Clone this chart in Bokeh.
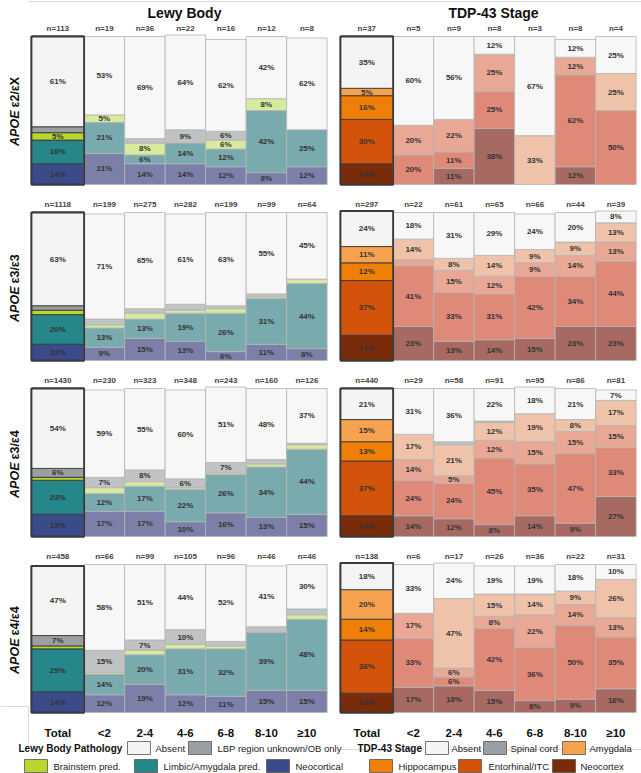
import math
from bokeh.plotting import figure
from bokeh.models import Range1d
from bokeh.core.properties import value
from bokeh.embed import file_html
from bokeh.resources import INLINE

FONT = value("Liberation Sans")

AGE_GROUPS = ["Total", "<2", "2-4", "4-6", "6-8", "8-10", "≥10"]
GENOTYPES = ["ε2/εX", "ε3/ε3", "ε3/ε4", "ε4/ε4"]

LB_STAGES = ["Neocortical", "Limbic/Amygdala pred.", "Brainstem pred.",
             "LBP region unknown/OB only", "Absent"]
TDP_STAGES = ["Neocortex", "Entorhinal/ITC", "Hippocampus", "Amygdala",
              "Spinal cord", "Absent"]

# ---- Lewy body pathology (% of cases), bottom stage first ----
lb_n_e2x = [113, 19, 36, 22, 16, 12, 8]
lb_e2x = {
    "Neocortical":                [14, 21, 14, 14, 12, 8, 12],
    "Limbic/Amygdala pred.":      [16, 21, 6, 14, 12, 42, 25],
    "Brainstem pred.":            [5, 5, 8, 0, 6, 8, 0],
    "LBP region unknown/OB only": [4, 0, 3, 9, 6, 0, 0],
    "Absent":                     [61, 53, 69, 64, 62, 42, 62],
}
lb_n_e33 = [1118, 199, 275, 282, 199, 99, 64]
lb_e33 = {
    "Neocortical":                [11, 9, 15, 13, 6, 11, 8],
    "Limbic/Amygdala pred.":      [20, 13, 13, 19, 26, 31, 44],
    "Brainstem pred.":            [3, 2, 4, 2, 3, 1, 3],
    "LBP region unknown/OB only": [3, 4, 3, 4, 2, 2, 0],
    "Absent":                     [63, 71, 65, 61, 63, 55, 45],
}
lb_n_e34 = [1430, 230, 323, 348, 243, 160, 126]
lb_e34 = {
    "Neocortical":                [15, 17, 17, 10, 16, 13, 15],
    "Limbic/Amygdala pred.":      [23, 12, 17, 22, 26, 34, 44],
    "Brainstem pred.":            [2, 4, 3, 1, 1, 2, 3],
    "LBP region unknown/OB only": [6, 7, 8, 6, 7, 3, 1],
    "Absent":                     [54, 59, 55, 60, 51, 48, 37],
}
lb_n_e44 = [458, 66, 99, 105, 96, 46, 46]
lb_e44 = {
    "Neocortical":                [14, 12, 19, 12, 11, 15, 15],
    "Limbic/Amygdala pred.":      [29, 14, 20, 31, 32, 39, 48],
    "Brainstem pred.":            [2, 1, 3, 3, 2, 0, 3],
    "LBP region unknown/OB only": [7, 15, 7, 10, 3, 4, 4],
    "Absent":                     [47, 58, 51, 44, 52, 41, 30],
}

# ---- TDP-43 stage (% of cases), bottom stage first ----
tdp_n_e2x = [37, 5, 9, 8, 3, 8, 4]
tdp_e2x = {
    "Neocortex":      [14, 0, 11, 38, 0, 12, 0],
    "Entorhinal/ITC": [30, 20, 11, 25, 0, 62, 50],
    "Hippocampus":    [16, 20, 22, 25, 0, 12, 0],
    "Amygdala":       [5, 0, 0, 0, 33, 0, 25],
    "Spinal cord":    [0, 0, 0, 0, 0, 0, 0],
    "Absent":         [35, 60, 56, 12, 67, 12, 25],
}
tdp_n_e33 = [297, 22, 61, 65, 66, 44, 39]
tdp_e33 = {
    "Neocortex":      [17, 23, 13, 14, 15, 23, 23],
    "Entorhinal/ITC": [37, 41, 33, 31, 42, 34, 44],
    "Hippocampus":    [12, 4, 15, 12, 9, 14, 13],
    "Amygdala":       [11, 14, 8, 14, 9, 9, 13],
    "Spinal cord":    [0, 0, 0, 0, 0, 0, 0],
    "Absent":         [24, 18, 31, 29, 24, 20, 8],
}
tdp_n_e34 = [440, 29, 58, 91, 95, 86, 81]
tdp_e34 = {
    "Neocortex":      [14, 14, 12, 8, 14, 9, 27],
    "Entorhinal/ITC": [37, 24, 24, 45, 35, 47, 33],
    "Hippocampus":    [13, 14, 5, 12, 15, 15, 15],
    "Amygdala":       [15, 17, 21, 12, 19, 8, 17],
    "Spinal cord":    [0, 0, 2, 1, 0, 0, 0],
    "Absent":         [21, 31, 36, 22, 18, 21, 7],
}
tdp_n_e44 = [138, 6, 17, 26, 36, 22, 31]
tdp_e44 = {
    "Neocortex":      [13, 17, 18, 15, 8, 9, 16],
    "Entorhinal/ITC": [36, 33, 6, 42, 36, 50, 35],
    "Hippocampus":    [14, 17, 6, 8, 22, 14, 13],
    "Amygdala":       [20, 0, 47, 15, 14, 9, 26],
    "Spinal cord":    [0, 0, 0, 0, 0, 0, 0],
    "Absent":         [18, 33, 24, 19, 19, 18, 10],
}

# ---- colours: full strength for the Total bar, muted for age bars ----
LB_STRONG = {
    "Neocortical": "#3b4a8b", "Limbic/Amygdala pred.": "#25878a",
    "Brainstem pred.": "#b9d62c", "LBP region unknown/OB only": "#9a9fa2",
    "Absent": "#f4f4f4",
}
LB_PALE = {
    "Neocortical": "#7c80a8", "Limbic/Amygdala pred.": "#79aaae",
    "Brainstem pred.": "#d7ea9e", "LBP region unknown/OB only": "#c0c2c4",
    "Absent": "#f7f7f7",
}
TDP_STRONG = {
    "Neocortex": "#7a2b0a", "Entorhinal/ITC": "#d4530a",
    "Hippocampus": "#f07f08", "Amygdala": "#f7a24e",
    "Spinal cord": "#9a9fa2", "Absent": "#f4f4f4",
}
TDP_PALE = {
    "Neocortex": "#a66a63", "Entorhinal/ITC": "#df8979",
    "Hippocampus": "#e8a895", "Amygdala": "#efc3a9",
    "Spinal cord": "#c0c2c4", "Absent": "#f7f7f7",
}

# ---- page geometry (screen pixels) ----
W, H = 641, 773
BAR_PX = 40.5                 # width of one age bar
TOTAL_W = 1.3                 # Total bar width in age-bar units
ROW_BOTTOMS = [184, 360, 536, 712]
ROW_PX = 148                  # height of a 100 % bar
PANEL_LEFT = {"lb": 31, "tdp": 340}

p = figure(width=W, height=H, output_backend="svg", toolbar_location=None,
           x_range=Range1d(0, W), y_range=Range1d(H, 0),
           x_axis_location=None, y_axis_location=None, min_border=0,
           outline_line_color=None, background_fill_color="white",
           border_fill_color="white")
p.grid.visible = False

# one x range per panel (unit = one age bar), one y range per genotype row (percent)
p.extra_x_ranges = {
    name: Range1d(-left / BAR_PX, (W - left) / BAR_PX)
    for name, left in PANEL_LEFT.items()
}
yr = {}
for i, b in enumerate(ROW_BOTTOMS):
    span = 100.0 * H / ROW_PX
    start = -(H - b) * 100.0 / ROW_PX
    yr[f"row{i}"] = Range1d(start, start + span)
p.extra_y_ranges = yr


def slot(j):
    if j == 0:
        return 0.0, TOTAL_W
    left = TOTAL_W + (j - 1)
    return left, left + 1.0


def draw_panel(xname, yname, stages, pct, counts, strong, pale):
    segs = {"l": [], "r": [], "b": [], "t": [], "c": [], "lc": [], "lw": []}
    labels = {"x": [], "y": [], "text": []}
    for j, _ in enumerate(AGE_GROUPS):
        left, right = slot(j)
        base = 0.0
        for stage in stages:
            v = pct[stage][j]
            if v <= 0:
                continue
            segs["l"].append(left)
            segs["r"].append(right)
            segs["b"].append(base)
            segs["t"].append(base + v)
            segs["c"].append(strong[stage] if j == 0 else pale[stage])
            segs["lc"].append("#3a3a3a" if j == 0 else "#b4b4b4")
            segs["lw"].append(0.9 if j == 0 else 0.8)
            if v >= 5:
                labels["x"].append((left + right) / 2)
                labels["y"].append(base + v / 2)
                labels["text"].append(f"{v}%")
            base += v
        if j == 0:
            p.quad(left=[left], right=[right], bottom=[0], top=[base],
                   fill_color=None, line_color="#3a3a3a", line_width=1.8,
                   x_range_name=xname, y_range_name=yname)
    p.quad(left=segs["l"], right=segs["r"], bottom=segs["b"], top=segs["t"],
           fill_color=segs["c"], line_color=segs["lc"], line_width=segs["lw"],
           x_range_name=xname, y_range_name=yname)
    # redraw the Total frame on top of its segments
    l0, r0 = slot(0)
    tot = sum(pct[s][0] for s in stages)
    p.quad(left=[l0], right=[r0], bottom=[0], top=[tot],
           fill_color=None, line_color="#3a3a3a", line_width=1.8,
           x_range_name=xname, y_range_name=yname)
    p.text(x=labels["x"], y=labels["y"], text=labels["text"],
           text_font=FONT, text_font_style="bold", text_font_size="8px",
           text_color="#333333", text_align="center", text_baseline="middle",
           x_range_name=xname, y_range_name=yname)
    p.text(x=[sum(slot(j)) / 2 for j in range(len(AGE_GROUPS))],
           y=[100] * len(AGE_GROUPS),
           text=[f"n={n}" for n in counts], y_offset=-8,
           text_font=FONT, text_font_style="bold", text_font_size="8px",
           text_color="#444444", text_align="center", text_baseline="middle",
           x_range_name=xname, y_range_name=yname)


rows = [
    (lb_e2x, lb_n_e2x, tdp_e2x, tdp_n_e2x),
    (lb_e33, lb_n_e33, tdp_e33, tdp_n_e33),
    (lb_e34, lb_n_e34, tdp_e34, tdp_n_e34),
    (lb_e44, lb_n_e44, tdp_e44, tdp_n_e44),
]

# faint slide rules
p.segment(x0=[28, 0, 28, 340], y0=[1, 706, 706, 749],
          x1=[W, 28, 28, W], y1=[1, 706, 742, 749],
          line_color="#d9d9d9", line_width=1)

for i, (lb, lbn, tdp, tdpn) in enumerate(rows):
    draw_panel("lb", f"row{i}", LB_STAGES, lb, lbn, LB_STRONG, LB_PALE)
    draw_panel("tdp", f"row{i}", TDP_STAGES, tdp, tdpn, TDP_STRONG, TDP_PALE)
    # genotype row label, read bottom-to-top
    yc = ROW_BOTTOMS[i] - ROW_PX / 2
    p.text(x=[14], y=[yc], text=["APOE"], angle=math.pi / 2,
           text_font=FONT, text_font_style="bold italic",
           text_font_size="12.5px", text_color="#111111",
           text_align="right", text_baseline="middle")
    p.text(x=[14], y=[yc - 3], text=[GENOTYPES[i]], angle=math.pi / 2,
           text_font=FONT, text_font_style="bold",
           text_font_size="12.5px", text_color="#111111",
           text_align="left", text_baseline="middle")

# panel titles
p.text(x=[184, 493], y=[12, 12], text=["Lewy Body", "TDP-43 Stage"],
       text_font=FONT, text_font_style="bold", text_font_size="14px",
       text_color="#111111", text_align="center", text_baseline="alphabetic")

# age-group axis labels
for name in ("lb", "tdp"):
    p.text(x=[sum(slot(j)) / 2 for j in range(len(AGE_GROUPS))],
           y=[732] * len(AGE_GROUPS), text=AGE_GROUPS,
           text_font=FONT, text_font_style="bold", text_font_size="11.5px",
           text_color="#111111", text_align="center", text_baseline="middle",
           x_range_name=name)

# legends
legend_rows = {
    747.5: [("head", 18, "Lewy Body Pathology"),
            ("box", 127, LB_STRONG["Absent"]), ("txt", 155, "Absent"),
            ("box", 188, LB_STRONG["LBP region unknown/OB only"]),
            ("txt", 217, "LBP region unknown/OB only"),
            ("head", 357, "TDP-43 Stage"),
            ("box", 425, TDP_STRONG["Absent"]), ("txt", 451, "Absent"),
            ("box", 483, TDP_STRONG["Spinal cord"]), ("txt", 510, "Spinal cord"),
            ("box", 562, TDP_STRONG["Amygdala"]), ("txt", 589, "Amygdala")],
    765.5: [("box", 24, LB_STRONG["Brainstem pred."]), ("txt", 53, "Brainstem pred."),
            ("box", 134, LB_STRONG["Limbic/Amygdala pred."]),
            ("txt", 163, "Limbic/Amygdala pred."),
            ("box", 266, LB_STRONG["Neocortical"]), ("txt", 295, "Neocortical"),
            ("box", 369, TDP_STRONG["Hippocampus"]), ("txt", 398, "Hippocampus"),
            ("box", 458, TDP_STRONG["Entorhinal/ITC"]), ("txt", 488, "Entorhinal/ITC"),
            ("box", 552, TDP_STRONG["Neocortex"]), ("txt", 580, "Neocortex")],
}
for yc, items in legend_rows.items():
    for kind, x, v in items:
        if kind == "box":
            p.quad(left=[x], right=[x + 23], top=[yc - 6.5], bottom=[yc + 6.5],
                   fill_color=v, line_color="#555555", line_width=0.8)
        elif kind == "txt":
            p.text(x=[x], y=[yc], text=[v], text_font=FONT,
                   text_font_size="9.5px", text_color="#222222",
                   text_align="left", text_baseline="middle")
        else:
            p.text(x=[x], y=[yc], text=[v], text_font=FONT,
                   text_font_style="bold", text_font_size="10px",
                   text_color="#111111", text_align="left",
                   text_baseline="middle")

open("out.html", "w").write(file_html(p, INLINE))
